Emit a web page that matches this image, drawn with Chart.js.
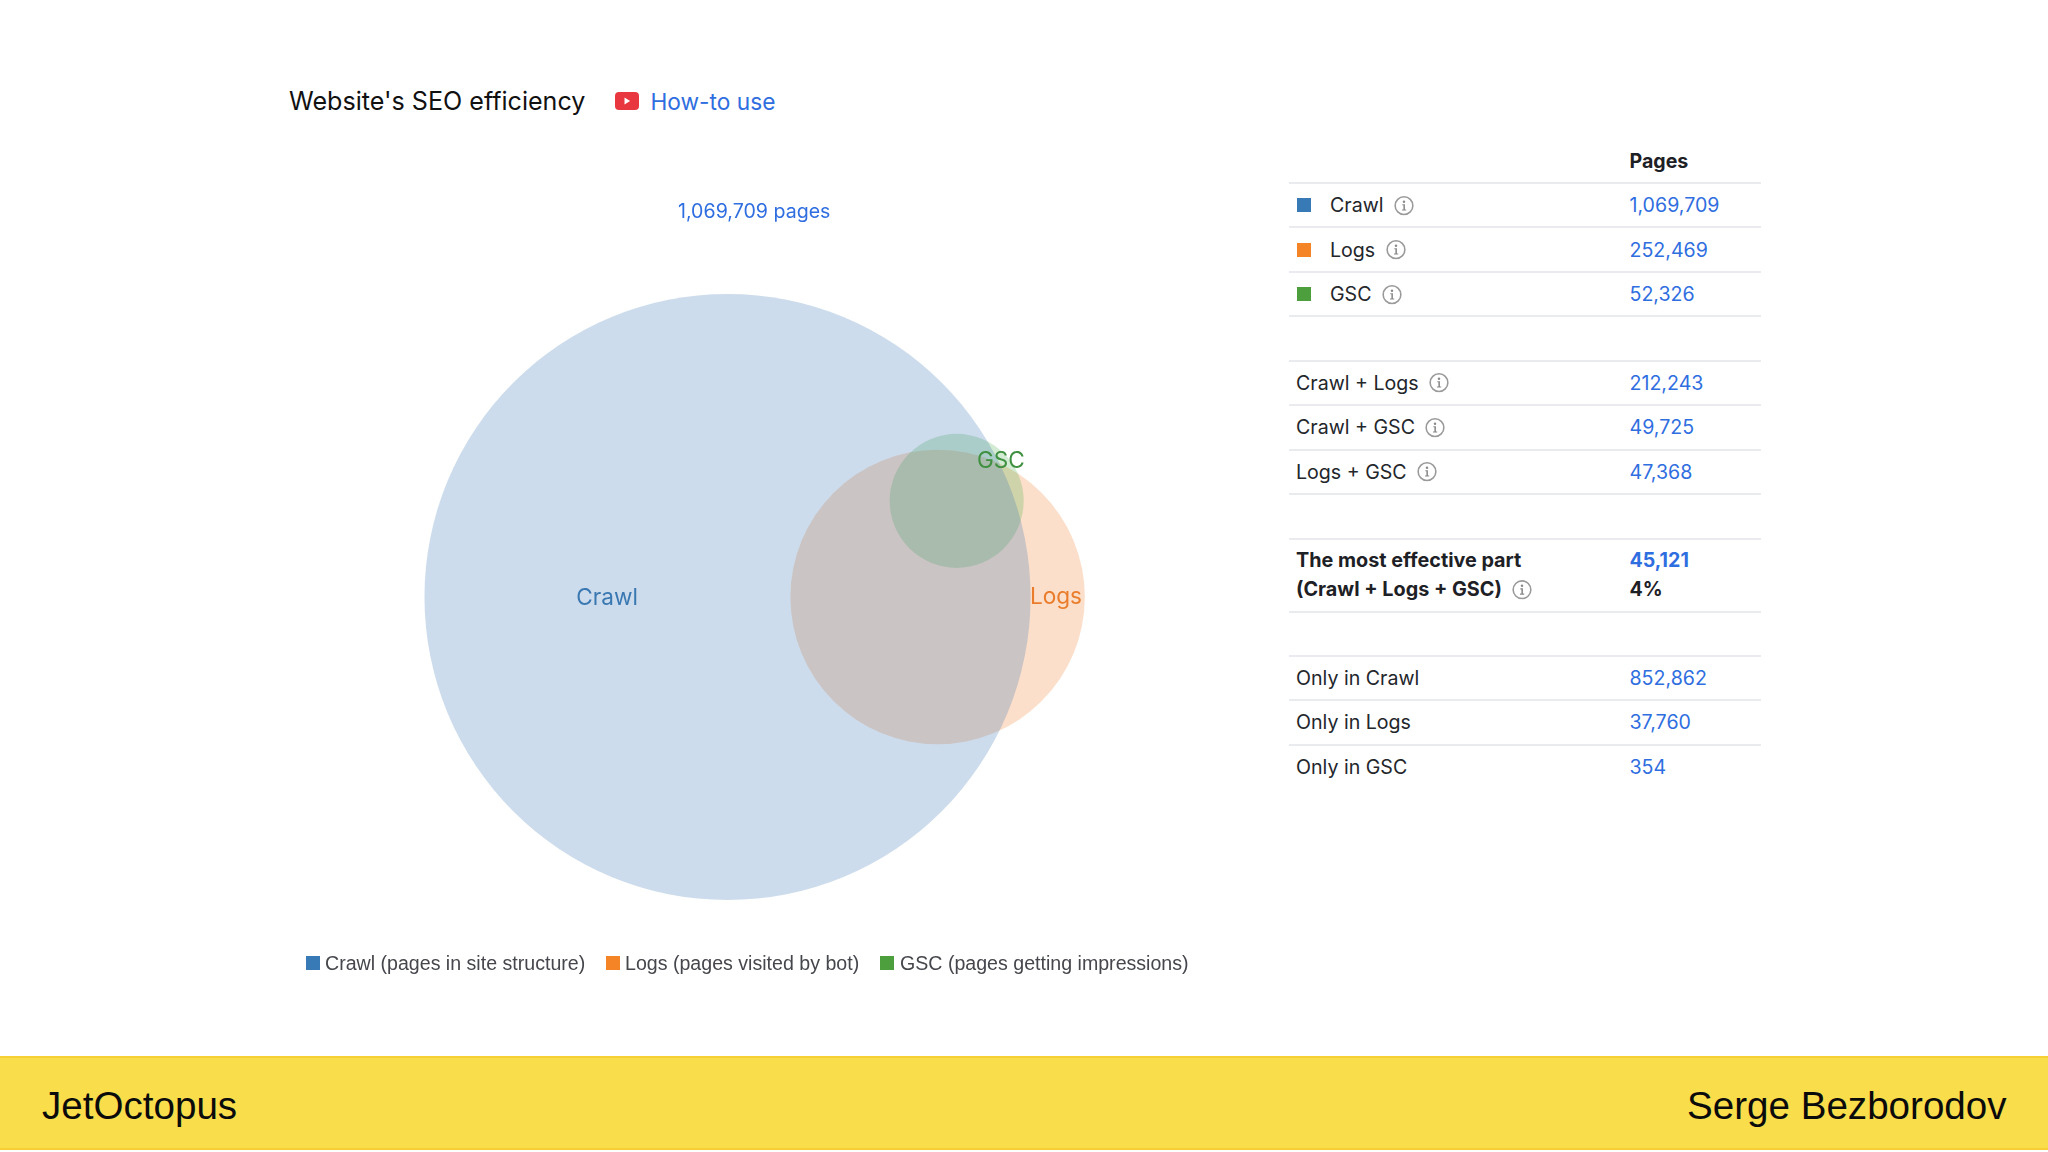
<!DOCTYPE html>
<html><head><meta charset="utf-8">
<script src="https://cdn.jsdelivr.net/npm/chart.js@4"></script>
<style>
html,body{margin:0;padding:0;background:#fff;width:2048px;height:1152px;overflow:hidden;font-family:Inter,sans-serif}
.abs{position:absolute;white-space:nowrap;line-height:1;transform:translateY(-50%)}
.line{position:absolute;left:1289px;width:472px;height:2px;background:#e9ebee}
.lbl{color:#23262b;font-size:19.6px}
.val{color:#2f6ee0;font-size:19.6px}
.b{font-weight:700;color:#1d2024}
.sq{position:absolute;width:14px;height:14px;transform:translateY(-50%)}
.info{width:20px;height:20px;display:inline-block;vertical-align:middle;margin-left:10.5px;position:relative;top:-1px}
#footer{position:absolute;left:0;top:1056px;width:2048px;height:94px;background:#f9dd4b;border-top:2px solid #f6cf35;border-bottom:2px solid #f6cf35;box-sizing:border-box}
.ft{font-family:"Liberation Sans",sans-serif;font-size:38.6px;color:#0b0b0b}
.leg{font-family:"Liberation Sans",sans-serif;font-size:19.6px;color:#45474c}
</style></head><body>
<canvas id="venn" width="923" height="762" style="position:absolute;left:288px;top:216px"></canvas>
<div id="footer"></div>
<div id="page"></div>
<script>
// ---- data ----
const setNames   = ["Crawl", "Logs", "GSC"];
const setPages   = [1069709, 252469, 52326];
const pairNames  = ["Crawl + Logs", "Crawl + GSC", "Logs + GSC"];
const pairPages  = [212243, 49725, 47368];
const onlyNames  = ["Only in Crawl", "Only in Logs", "Only in GSC"];
const onlyPages  = [852862, 37760, 354];
const bestPages  = 45121;
const bestShare  = "4%";
const legendText = ["Crawl (pages in site structure)", "Logs (pages visited by bot)", "GSC (pages getting impressions)"];
// circle centres in sqrt(pages) units; a circle's radius is sqrt(pages) on the same scale
const centreX    = [0, 717, 782];
const centreY    = [0, 0, 328];
const labelX     = [-411, 1121, 933];
const labelY     = [-4, 0, 465];
const setColors  = ["#377ab6", "#f58426", "#4c9f3c"];
const fillColors = ["rgba(55,115,180,.25)", "rgba(245,127,42,.25)", "rgba(77,175,74,.25)"];
const labelColors= ["#3a78b2", "#ea7d2c", "#3f9040"];

const fmt = n => n.toLocaleString("en-US");

// ---- chart ----
const xMin=-1500, xMax=1650, yMin=-1300, yMax=1300;
const canvas=document.getElementById("venn");
const pxPerUnit=canvas.width/(xMax-xMin);
const venn = setNames.map((n,i)=>({
  label:n,
  data:[{x:centreX[i],y:centreY[i],r:Math.sqrt(setPages[i])*pxPerUnit}],
  backgroundColor:fillColors[i],
  borderWidth:0,
  hoverBorderWidth:0
}));
const setLabels={id:"setLabels",afterDatasetsDraw(ch){
  const {ctx,scales:{x,y}}=ch;
  ctx.save();ctx.font='22.6px Inter';ctx.textAlign="center";ctx.textBaseline="middle";
  setNames.forEach((n,i)=>{ctx.fillStyle=labelColors[i];ctx.fillText(n,x.getPixelForValue(labelX[i]),y.getPixelForValue(labelY[i]));});
  ctx.restore();
}};
// Chart.js paints dataset 0 last, so Crawl lies on top of the others
new Chart(canvas,{
  type:"bubble",
  data:{datasets:[venn[0],venn[2],venn[1]]},
  options:{responsive:false,animation:false,devicePixelRatio:1,
    layout:{padding:0,autoPadding:false},
    plugins:{legend:{display:false},tooltip:{enabled:false}},
    scales:{
      x:{type:"linear",min:xMin,max:xMax,display:false},
      y:{type:"linear",min:yMin,max:yMax,display:false}
    }},
  plugins:[setLabels]
});

// ---- page text ----
const page=document.getElementById("page");
function add(cls,x,y,html,extra){const e=document.createElement("div");e.className="abs "+cls;e.style.left=x+"px";e.style.top=y+"px";e.innerHTML=html;if(extra)e.style.cssText+=extra;page.appendChild(e);return e;}
const info='<svg class="info" viewBox="0 0 19 19"><circle cx="9.5" cy="9.5" r="8.4" fill="none" stroke="#9a9a9a" stroke-width="1.5"/><circle cx="9.5" cy="5.7" r="1.2" fill="#8a8a8a"/><path d="M7.9 8.1h2.5v5h1.2v1.1H7.6v-1.1h1.3V9.2h-1z" fill="#8a8a8a"/></svg>';

add("",289,101.7,"Website's SEO efficiency","font-size:25.1px;color:#111");
add("",650.5,102,"How-to use","font-size:22.7px;color:#2f6ee0");
const yt=document.createElementNS("http://www.w3.org/2000/svg","svg");
yt.setAttribute("viewBox","0 0 24 18");yt.setAttribute("style","position:absolute;left:615px;top:92px;width:24px;height:18px");
yt.innerHTML='<rect width="24" height="18" rx="4" fill="#e8373f"/><path d="M9.5 5.6v6.8l5.6-3.4z" fill="#fff"/>';page.appendChild(yt);
add("val",678,211.5,"1,069,709 pages");

// table
const rowY=[206,250.5,294.9, 383.7,428,472.5, 678.8,723.2,767.6];
[182,226,271,315,360,404,449,493,538,611,655,699,744].forEach(y=>{
  const d=document.createElement("div");d.className="line";d.style.top=y+"px";page.appendChild(d);});
add("b",1629.5,162,"Pages","font-size:19.6px");
setNames.forEach((n,i)=>{
  const s=document.createElement("div");s.className="sq";s.style.cssText=`left:1297px;top:${rowY[i]-1}px;background:${setColors[i]}`;page.appendChild(s);
  add("lbl",1330,rowY[i],n+info);add("val",1629.5,rowY[i],fmt(setPages[i]));
});
pairNames.forEach((n,i)=>{add("lbl",1296,rowY[3+i],n+info);add("val",1629.5,rowY[3+i],fmt(pairPages[i]));});
onlyNames.forEach((n,i)=>{add("lbl",1296,rowY[6+i],n);add("val",1629.5,rowY[6+i],fmt(onlyPages[i]));});
add("lbl b",1296,561,"The most effective part","font-size:19.8px");
add("lbl b",1296,590,"(Crawl + Logs + GSC)"+info,"font-size:19.8px");
add("val b",1629.5,561,fmt(bestPages),"color:#2f6ee0");
add("lbl b",1629.5,590,bestShare);

// legend
const legBox=[306,606,880], legTxt=[325,625,900];
legendText.forEach((t,i)=>{
  const s=document.createElement("div");s.className="sq";s.style.cssText=`left:${legBox[i]}px;top:963px;background:${setColors[i]}`;page.appendChild(s);
  add("leg",legTxt[i],964,t);
});
// footer
add("ft",42,1106,"JetOctopus");
add("ft",1687,1106,"Serge Bezborodov");
</script>
</body></html>
